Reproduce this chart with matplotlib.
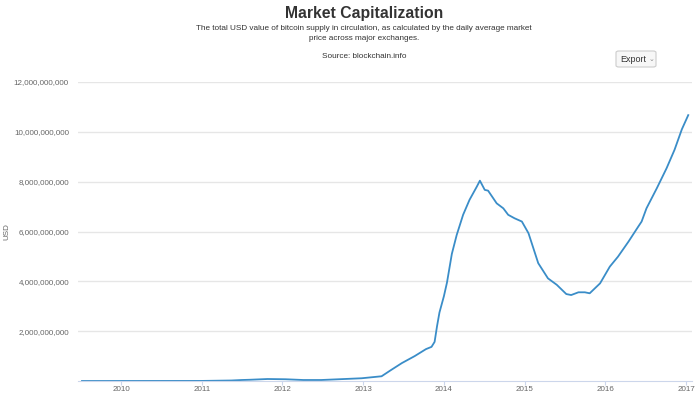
import pandas as pd
import matplotlib.pyplot as plt
import matplotlib.dates as mdates
from matplotlib.patches import FancyBboxPatch
from matplotlib.ticker import FuncFormatter

# market cap, billions of USD
dates = ["2009-07-08", "2010-01-01", "2010-07-01", "2011-01-01", "2011-05-15",
         "2011-07-01", "2011-08-07", "2011-10-26", "2012-01-15", "2012-04-05",
         "2012-06-25", "2012-09-12", "2012-12-25", "2013-03-25", "2013-05-05",
         "2013-06-25", "2013-08-22", "2013-10-12", "2013-11-06", "2013-11-20",
         "2013-12-01", "2013-12-12", "2014-01-01", "2014-01-15", "2014-02-06",
         "2014-02-28", "2014-03-29", "2014-04-27", "2014-05-30", "2014-06-13",
         "2014-07-05", "2014-07-20", "2014-08-28", "2014-09-27", "2014-10-19",
         "2014-11-17", "2014-12-20", "2015-01-19", "2015-03-04", "2015-04-17",
         "2015-05-27", "2015-07-09", "2015-07-31", "2015-09-02", "2015-10-01",
         "2015-10-23", "2015-12-09", "2016-01-22", "2016-02-28", "2016-04-16",
         "2016-05-30", "2016-06-14", "2016-07-06", "2016-08-22", "2016-10-05",
         "2016-11-10", "2016-12-13", "2017-01-11"]
cap_bn = [0.0, 0.001, 0.002, 0.003, 0.02,
          0.04, 0.05, 0.08, 0.07, 0.04,
          0.04, 0.07, 0.11, 0.19, 0.43,
          0.72, 1.0, 1.28, 1.37, 1.57,
          2.2, 2.75, 3.4, 3.95, 5.1,
          5.86, 6.67, 7.27, 7.8, 8.04,
          7.67, 7.64, 7.13, 6.93, 6.67,
          6.53, 6.4, 5.93, 4.73, 4.12,
          3.86, 3.49, 3.45, 3.56, 3.56,
          3.52, 3.92, 4.59, 4.99, 5.6,
          6.2, 6.4, 6.93, 7.74, 8.54,
          9.28, 10.1, 10.67]
years = list(range(2010, 2018))
y_ticks = [2e9, 4e9, 6e9, 8e9, 10e9, 12e9]

df = pd.DataFrame({"date": pd.to_datetime(dates), "cap": [v * 1e9 for v in cap_bn]})

plt.rcParams['font.family'] = ['Liberation Sans', 'DejaVu Sans']

fig = plt.figure(figsize=(7, 3.96), dpi=100)
ax = fig.add_axes([78 / 700, 15 / 396, 614 / 700, 299 / 396])

ax.plot(df["date"], df["cap"], color='#3a8dc8', lw=1.3)

ax.set_xlim(pd.Timestamp("2009-06-20"), pd.Timestamp("2017-01-28"))
ax.set_ylim(0, 12e9)
ax.set_yticks(y_ticks)
ax.yaxis.set_major_formatter(FuncFormatter(lambda v, p: f"{int(v):,}"))
ax.set_xticks([pd.Timestamp(f"{y}-01-01") for y in years])
ax.xaxis.set_major_formatter(mdates.DateFormatter("%Y"))

ax.grid(axis='y', color='#e6e6e6', lw=1)
ax.set_axisbelow(True)
for s in ['top', 'right', 'left']:
    ax.spines[s].set_visible(False)
ax.spines['bottom'].set_color('#ccd6eb')
ax.tick_params(axis='y', length=0, pad=6.5, labelsize=5.8, labelcolor='#666666')
ax.tick_params(axis='x', length=3, color='#ccd6eb', pad=0.8, labelsize=5.8, labelcolor='#666666')
ax.set_ylabel("USD", fontsize=5.8, color='#666666')
ax.yaxis.set_label_coords(-0.11, 0.5)

fig.text(0.52, 0.967, "Market Capitalization", ha='center', va='center',
         fontsize=11.3, fontweight='bold', color='#333333')
fig.text(0.52, 0.915, "The total USD value of bitcoin supply in circulation, as calculated by the daily average market\nprice across major exchanges.",
         ha='center', va='center', fontsize=5.9, color='#333333', linespacing=1.5)
fig.text(0.52, 0.857, "Source: blockchain.info", ha='center', va='center',
         fontsize=5.9, color='#333333')

# export button
btn = FancyBboxPatch((616 / 700, 1 - 67 / 396), 40 / 700, 16 / 396,
                     boxstyle="round,pad=0,rounding_size=0.004",
                     transform=fig.transFigure, fc='#f7f7f7', ec='#cccccc', lw=0.8)
fig.patches.append(btn)
fig.text(633 / 700, 1 - 59 / 396, "Export", ha='center', va='center', fontsize=6.5, color='#333333')
fig.text(651 / 700, 1 - 59 / 396, "⌄", ha='center', va='center', fontsize=5, color='#888888',
         family=['DejaVu Sans'])

fig.savefig("out.png", dpi=100)
